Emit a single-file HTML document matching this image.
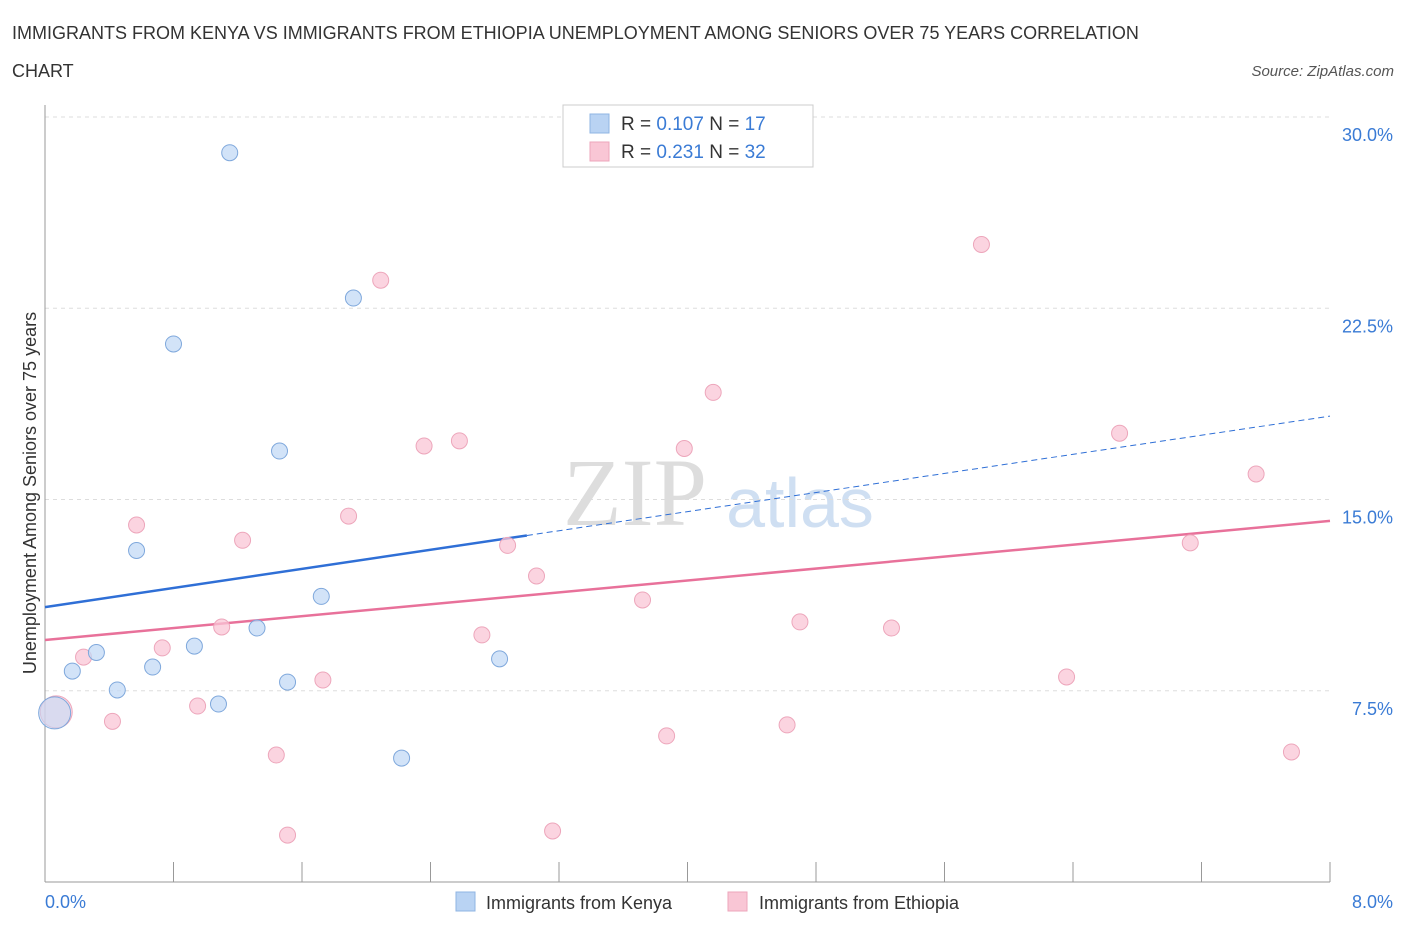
<!DOCTYPE html>
<html><head><meta charset="utf-8"><style>
body{margin:0;background:#fff;font-family:"Liberation Sans",sans-serif;}
svg{display:block}
</style></head><body>
<svg width="1406" height="930" xmlns="http://www.w3.org/2000/svg" id="chart">
<text x="12" y="39" font-size="18" fill="#333">IMMIGRANTS FROM KENYA VS IMMIGRANTS FROM ETHIOPIA UNEMPLOYMENT AMONG SENIORS OVER 75 YEARS CORRELATION</text>
<text x="12" y="77" font-size="18" fill="#333">CHART</text>
<text x="1394" y="76" font-size="15" fill="#555" font-style="italic" text-anchor="end">Source: ZipAtlas.com</text>
<text x="635" y="525" font-size="96" fill="#ddd" font-family="Liberation Serif,serif" text-anchor="middle">ZIP</text>
<text x="800" y="527" font-size="70" fill="#cfdff2" text-anchor="middle">atlas</text>
<g id="grid"></g><g id="axes"></g><g id="marks"></g>
<text x="36" y="493" font-size="18" fill="#333" text-anchor="middle" transform="rotate(-90 36 493)">Unemployment Among Seniors over 75 years</text>
<g>
<rect x="563" y="105" width="250" height="62" fill="#fff" stroke="#ccc"/>
<rect x="590" y="114" width="19" height="19" fill="#b9d3f3" stroke="#8fb4e3"/>
<rect x="590" y="142" width="19" height="19" fill="#f9c6d5" stroke="#eda6bb"/>
<text x="621" y="130" font-size="19" fill="#333">R = <tspan fill="#3a7bd5">0.107</tspan>   N = <tspan fill="#3a7bd5">17</tspan></text>
<text x="621" y="158" font-size="19" fill="#333">R = <tspan fill="#3a7bd5">0.231</tspan>   N = <tspan fill="#3a7bd5">32</tspan></text>
</g>
<g>
<rect x="456" y="892" width="19" height="19" fill="#b9d3f3" stroke="#8fb4e3"/>
<text x="486" y="909" font-size="18" fill="#333">Immigrants from Kenya</text>
<rect x="728" y="892" width="19" height="19" fill="#f9c6d5" stroke="#eda6bb"/>
<text x="759" y="909" font-size="18" fill="#333">Immigrants from Ethiopia</text>
</g>
</svg>
<script>
const yTicks=[7.5,15,22.5,30];
const yTickLabels=["7.5%","15.0%","22.5%","30.0%"];
const xTickLabels=["0.0%","8.0%"];
const kenyaX=[1.15,1.92,0.80,1.46,0.57,1.72,1.32,0.93,0.32,0.67,0.17,2.83,0.45,1.51,1.08,2.22,0.06];
const kenyaY=[28.6,22.9,21.1,16.9,13.0,11.2,9.96,9.25,9.0,8.43,8.27,8.75,7.53,7.84,6.98,4.86,6.63];
const ethX=[5.83,2.09,4.16,2.58,2.36,3.98,6.69,7.54,1.89,0.57,1.23,2.88,7.13,3.06,3.72,4.70,1.10,5.27,2.72,0.73,0.24,1.73,6.36,0.95,0.42,4.62,3.87,1.44,7.76,1.51,3.16,0.07];
const ethY=[25.0,23.6,19.2,17.3,17.1,17.0,17.6,16.0,14.35,14.0,13.4,13.2,13.3,12.0,11.06,10.2,10.0,9.96,9.69,9.18,8.82,7.92,8.04,6.9,6.3,6.16,5.73,4.98,5.1,1.84,2.0,6.67];
const kenyaTrend=[10.78,18.27];
const ethTrend=[9.49,14.16];
const X=v=>45+v*(1285/8), Y=v=>882-v*(765/30);
const NS="http://www.w3.org/2000/svg";
function mk(t,a,p){const e=document.createElementNS(NS,t);for(const k in a)e.setAttribute(k,a[k]);p.appendChild(e);return e;}
const grid=document.getElementById('grid'),axes=document.getElementById('axes'),marks=document.getElementById('marks');
yTicks.forEach((t,i)=>{
 const l=mk('line',{x1:45,x2:1330,y1:Y(t),y2:Y(t),stroke:'#ddd','stroke-dasharray':'4 4'},grid);
 
 
 const tx=mk('text',{x:1393,y:Y(t)+24,'font-size':18,fill:'#3a7bd5','text-anchor':'end'},axes);
 tx.textContent=yTickLabels[i];
 
 
});
const gt=mk('line',{x1:45,x2:1330,y1:Y(30),y2:Y(30),stroke:'#ddd','stroke-dasharray':'4 4'},grid);
const ax=mk('line',{x1:45,x2:1330,y1:882,y2:882,stroke:'#999'},axes);


const ay=mk('line',{x1:45,x2:45,y1:105,y2:882,stroke:'#999'},axes);


for(let i=0;i<=10;i++){const tk=mk('line',{x1:X(i*0.8),x2:X(i*0.8),y1:862,y2:882,stroke:'#999'},axes);
 
 }
const xl0=mk('text',{x:45,y:908,'font-size':18,fill:'#3a7bd5'},axes);xl0.textContent=xTickLabels[0];


const xl1=mk('text',{x:1393,y:908,'font-size':18,fill:'#3a7bd5','text-anchor':'end'},axes);xl1.textContent=xTickLabels[1];


// trend lines
const kAt=x=>kenyaTrend[0]+(kenyaTrend[1]-kenyaTrend[0])*x/8;
const t1=mk('line',{x1:X(0),y1:Y(kAt(0)),x2:X(3.0),y2:Y(kAt(3.0)),stroke:'#2f6fd6','stroke-width':2.5},marks);


const t2=mk('line',{x1:X(3.0),y1:Y(kAt(3.0)),x2:X(8),y2:Y(kAt(8)),stroke:'#2f6fd6','stroke-width':1,'stroke-dasharray':'6 4'},marks);


const t3=mk('line',{x1:X(0),y1:Y(ethTrend[0]),x2:X(8),y2:Y(ethTrend[1]),stroke:'#e8719a','stroke-width':2.5},marks);


function dots(xs,ys,fill,stroke,name){xs.forEach((x,i)=>{const big=x<0.1;
 const c=mk('circle',{cx:X(x),cy:Y(ys[i]),r:big?16:8,fill:fill,stroke:stroke,'stroke-width':1,'fill-opacity':big?0.6:0.75},marks);
 
 });}
dots(ethX,ethY,'#f9c6d5','#eda6bb','ethiopia-point');
dots(kenyaX,kenyaY,'#c3d9f5','#7fa8dc','kenya-point');
</script>
</body></html>
